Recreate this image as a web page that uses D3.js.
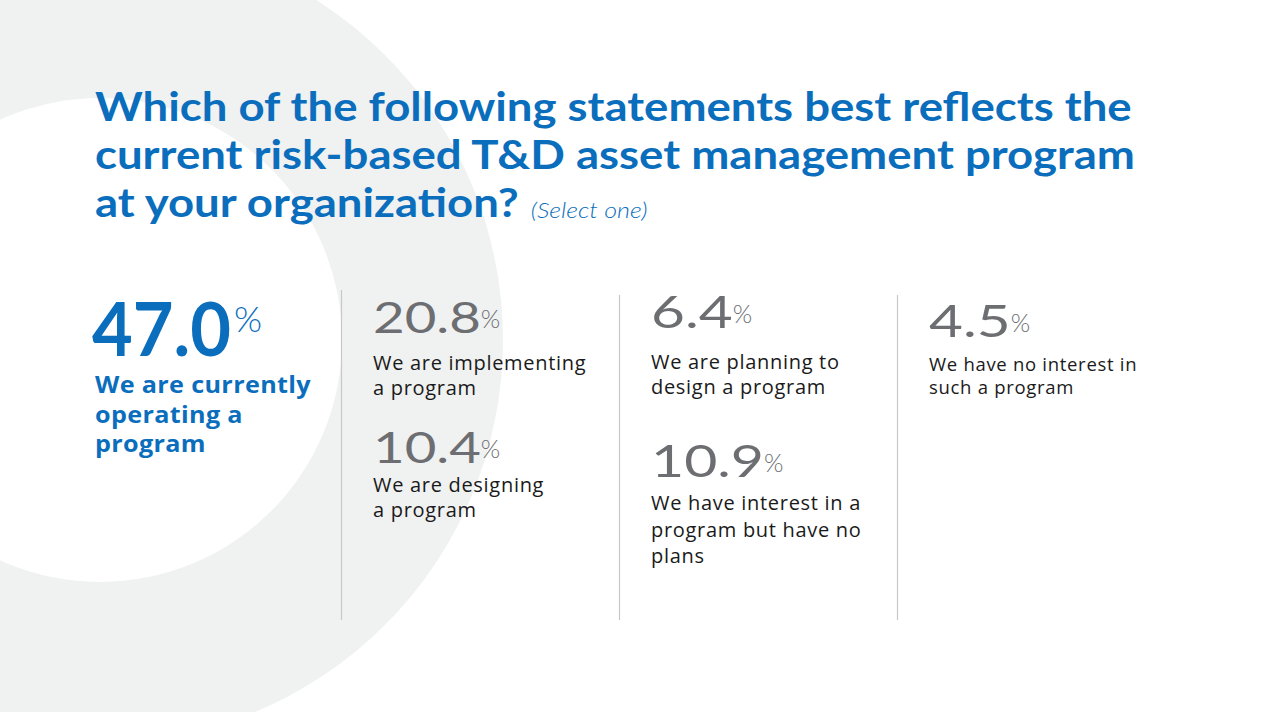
<!DOCTYPE html>
<html>
<head>
<meta charset="utf-8">
<script src="https://cdn.jsdelivr.net/npm/d3@7"></script>
<style>
  html, body { margin: 0; padding: 0; background: #fff; }
  svg { display: block; }
</style>
</head>
<body>
<svg id="chart" width="1266" height="712" viewBox="0 0 1266 712"></svg>
<script>
// data
const titleLines = ["Which of the following statements best reflects the",
                    "current risk-based T&D asset management program",
                    "at your organization?"];
const titleNote = "(Select one)";
const values = [47.0, 20.8, 10.4, 6.4, 10.9, 4.5];
const answers = [
    ["We are currently", "operating a", "program"],
    ["We are implementing", "a program"],
    ["We are designing", "a program"],
    ["We are planning to", "design a program"],
    ["We have interest in a", "program but have no", "plans"],
    ["We have no interest in", "such a program"]
];

// layout (column, number baseline, font size, label offset, label line height, label size)
const column = [0, 1, 1, 2, 2, 3];
const numBase = [356, 333, 463, 328, 477, 337];
const numSize = [74, 42, 42, 45, 44, 45];
const labelGap = [37, 37, 29, 41, 33, 34];
const lineH = [29.5, 25, 25, 25, 26.5, 23];
const labelSize = [22.5, 20, 20, 20, 20, 18.5];

const blue = "#0a6ebd";
const grey = "#6d6e71";

const svg = d3.select("#chart");

// background ring
const ring = svg.append("g");
ring.append("circle").attr("cx", 100).attr("cy", 340).attr("r", 403).attr("fill", "#f0f1f1");
ring.append("circle").attr("cx", 100).attr("cy", 340).attr("r", 242).attr("fill", "#fff");

// title (Lato is narrower than the original face, so widen it)
const title = svg.append("g");
const tl = title.selectAll("text")
    .data(titleLines)
    .enter().append("text")
    .attr("fill", blue)
    .style("font-family", "Lato, sans-serif")
    .style("font-weight", 700)
    .style("font-size", "40px")
    .text(d => d);
const titleScale = 1037 / tl.nodes()[0].getComputedTextLength();
tl.attr("transform", (d, i) => "translate(95," + (121 + i * 48) + ") scale(" + titleScale + ",1)");
const lastW = tl.nodes()[2].getComputedTextLength() * titleScale;
title.append("text")
    .attr("transform", "translate(" + (95 + lastW + 12) + ",218) scale(" + titleScale + ",1)")
    .attr("fill", blue)
    .style("font-family", "Lato, sans-serif")
    .style("font-style", "italic")
    .style("font-weight", 300)
    .style("font-size", "22px")
    .text(titleNote);

// columns
const x = d3.scaleLinear().domain([0, 3]).range([95, 929]);

// separators
svg.append("g").selectAll("line")
    .data([1, 2, 3])
    .enter().append("line")
    .attr("x1", d => x(d) - 31.5)
    .attr("x2", d => x(d) - 31.5)
    .attr("y1", d => d === 1 ? 290 : 295)
    .attr("y2", 620)
    .attr("stroke", "#c8c8c8")
    .attr("stroke-width", 1.2);

const items = svg.append("g").selectAll("g")
    .data(values)
    .enter().append("g");

// numbers (wide geometric look -> stretch horizontally)
const stretch = 1.3;
items.each(function(v, i) {
    const g = d3.select(this);
    const big = i === 0;
    const sx = big ? 0.95 : stretch;
    const num = g.append("text")
        .attr("transform", "translate(" + (big ? x(column[i]) - 3 : x(column[i])) + "," + numBase[i] + ") scale(" + sx + ",1)")
        .attr("fill", big ? blue : grey)
        .style("font-family", "Lato, sans-serif")
        .style("font-weight", big ? 700 : 400)
        .style("font-size", numSize[i] + "px")
        .text(v.toFixed(1));
    const w = num.node().getComputedTextLength() * sx;
    g.append("text")
        .attr("x", x(column[i]) + w)
        .attr("y", numBase[i] - (big ? 24 : 5))
        .attr("fill", big ? blue : grey)
        .style("font-family", "Lato, sans-serif")
        .style("font-weight", 300)
        .style("font-size", (big ? 36 : 25) + "px")
        .text("%");

    const lx = big ? 1.12 : 1;
    g.append("g").selectAll("text")
        .data(answers[i])
        .enter().append("text")
        .attr("transform", (d, j) => "translate(" + x(column[i]) + "," + (numBase[i] + labelGap[i] + j * lineH[i]) + ") scale(" + lx + ",1)")
        .attr("fill", big ? blue : "#1a1a1a")
        .style("font-family", "'Open Sans', sans-serif")
        .style("font-weight", big ? 700 : 400)
        .style("font-size", labelSize[i] + "px")
        .style("letter-spacing", big ? "0.3px" : "0.7px")
        .text(d => d);
});
</script>
</body>
</html>
